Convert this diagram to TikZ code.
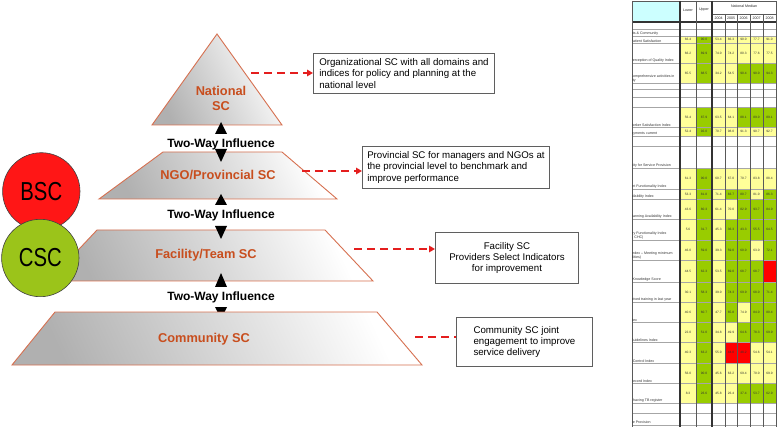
\documentclass[tikz,border=0pt]{standalone}
\usepackage{fontspec}
\usepackage{graphicx}
\setmainfont{Liberation Sans}
\usetikzlibrary{arrows.meta,calc}
\definecolor{lvlc}{RGB}{200,78,30}
\definecolor{edgec}{RGB}{214,112,80}
\definecolor{dashc}{RGB}{228,30,30}
\definecolor{bscc}{RGB}{255,22,22}
\definecolor{cscc}{RGB}{155,196,26}
\definecolor{boxc}{RGB}{95,95,95}
\definecolor{cy}{RGB}{204,255,255}
\definecolor{yc}{RGB}{255,255,153}
\definecolor{gc}{RGB}{153,204,0}
\definecolor{rc}{RGB}{255,0,0}
\begin{document}
\begin{tikzpicture}[x=1pt,y=-1pt,
  lvl/.style={draw=edgec, line width=0.9pt, left color=gray!62, middle color=gray!22, right color=white, shading angle=115},
  lvltext/.style={font=\fontsize{12.8}{15}\selectfont\bfseries, text=lvlc, align=center, inner sep=0pt},
  twoway/.style={font=\fontsize{12}{14}\selectfont\bfseries, inner sep=0pt},
  infobox/.style={draw=boxc, line width=0.9pt, fill=white, font=\fontsize{9.7}{11.2}\selectfont, inner sep=0pt},
  reddash/.style={draw=dashc, line width=2.2pt, dash pattern=on 8pt off 5pt},
  tip/.style={-{Triangle[length=6pt,width=6.5pt]}},
  ball/.style={circle, draw=black!75, line width=0.6pt, minimum size=77.4pt, inner sep=0pt, font=\fontsize{26}{26}\selectfont},
  cell/.style={font=\fontsize{3.2}{3.6}\selectfont, inner sep=0pt, text=black!80},
  rowlab/.style={font=\fontsize{3.6}{4.2}\selectfont, inner sep=0pt, align=left, text=black!80},
  hdr/.style={font=\fontsize{3.6}{4.2}\selectfont, inner sep=0pt, text=black!85},
  grid/.style={draw=gray!70, line width=0.4pt},
  vthick/.style={draw=black!80, line width=1.2pt},
  vthin/.style={draw=black!65, line width=0.5pt}
]
\useasboundingbox (0,0) rectangle (778,427);

% ---------------- pyramid ----------------
\path[lvl] (217,34) -- (282,125) -- (152,125) -- cycle;
\path[lvl] (163,152) -- (282,152) -- (337,199) -- (99,199) -- cycle;
\path[lvl] (97,230) -- (325,230) -- (373,281) -- (49,281) -- cycle;
\fill[black] (215,307) -- (227,307) -- (221,319) -- cycle;
\path[lvl] (55,312) -- (377,312) -- (422,365) -- (12,365) -- cycle;

% two-way arrow heads
\fill[black] (221,122) -- (215,134) -- (227,134) -- cycle;
\fill[black] (215,149) -- (227,149) -- (221,162) -- cycle;
\fill[black] (221,194) -- (215,205) -- (227,205) -- cycle;
\fill[black] (215,226) -- (227,226) -- (221,239) -- cycle;
\fill[black] (221,273) -- (215,287) -- (227,287) -- cycle;

\node[lvltext] (natl) at (221,98.5) {National\\SC};
\node[lvltext] (ngol) at (218,175) {NGO/Provincial SC};
\node[lvltext] (facl) at (206,255) {Facility/Team SC};
\node[lvltext] (coml) at (204,339) {Community SC};

\node[twoway] (tw1) at (221,144) {Two-Way Influence};
\node[twoway] (tw2) at (221,215) {Two-Way Influence};
\node[twoway] (tw3) at (221,297) {Two-Way Influence};

% ---------------- circles ----------------
\node[ball, fill=bscc] (bsc) at (41.3,191.4) {\scalebox{0.78}[1]{BSC}};
\node[ball, fill=cscc] (csc) at (40.3,258) {\scalebox{0.78}[1]{CSC}};

% ---------------- boxes ----------------
\node[infobox, minimum width=181pt, minimum height=40pt, anchor=north west, align=left] (box1) at (313,53)
  {Organizational SC with all domains and\\indices for policy and planning at the\\national level};
\node[infobox, minimum width=187pt, minimum height=42pt, anchor=north west, align=left] (box2) at (362,146)
  {Provincial SC for managers and NGOs at\\the provincial level to benchmark and\\improve performance\phantom{g and NGOs at}};
\node[infobox, minimum width=143pt, minimum height=51pt, anchor=north west, align=center] (box3) at (435,232)
  {Facility SC\\Providers Select Indicators\\for improvement};
\node[infobox, minimum width=136pt, minimum height=49pt, anchor=north west, align=left] (box4) at (456,317)
  {Community SC joint\\engagement to improve\\service delivery\phantom{mprove}};

% ---------------- dashed connectors ----------------
\coordinate (natr) at (251,73);
\coordinate (ngor) at (302,171);
\coordinate (facr) at (354,249);
\coordinate (comr) at (415,337);
\draw[reddash, tip] (natr) -- (natr -| box1.west);
\draw[reddash, tip] (ngor) -- (ngor -| box2.west);
\draw[reddash, tip] (facr) -- (facr -| box3.west);
\draw[reddash] (comr) -- (comr -| box4.west);

% ---------------- table ----------------
\fill[cy] (632,1) rectangle (680,22);
\foreach \ya/\yb/\cells [count=\r] in {
 36/43/{yc/66.4,gc/90.0,yc/53.4,yc/86.3,yc/90.0,yc/77.7,yc/91.0},
 43/63/{yc/66.2,gc/89.9,yc/74.0,yc/74.2,yc/80.3,yc/77.6,yc/77.5},
 63/83/{yc/65.5,gc/88.5,yc/34.2,yc/54.5,gc/90.4,gc/90.0,gc/94.3},
 107/127/{yc/56.4,gc/87.9,yc/63.5,yc/64.1,gc/88.1,gc/89.0,gc/89.1},
 127/136/{yc/52.4,gc/92.0,yc/70.7,yc/98.0,yc/91.3,yc/90.7,yc/92.7},
 168/189/{yc/61.3,gc/90.0,yc/60.7,yc/67.0,yc/70.7,yc/83.8,yc/88.4},
 189/199/{yc/53.3,gc/81.8,yc/71.4,gc/83.7,gc/80.7,yc/81.0,gc/86.3},
 199/219/{yc/43.6,gc/80.3,yc/61.4,yc/70.0,gc/82.9,gc/93.7,gc/84.9},
 219/240/{yc/5.6,gc/31.7,yc/45.3,gc/36.3,gc/43.3,gc/55.5,gc/64.5},
 240/260/{yc/46.0,gc/59.0,yc/39.3,gc/59.0,gc/60.0,yc/63.0,gc/72.1},
 260/282/{yc/44.5,gc/62.3,yc/53.5,gc/69.0,gc/68.7,gc/68.7,rc/},
 282/302/{yc/30.1,gc/58.3,yc/39.0,gc/74.3,gc/69.9,gc/68.0,gc/71.4},
 302/322/{yc/40.6,gc/60.7,yc/47.7,gc/65.8,yc/74.9,gc/84.0,gc/80.4},
 322/342/{yc/22.0,gc/51.0,yc/34.8,yc/49.9,gc/64.6,gc/78.3,gc/69.9},
 342/363/{yc/40.3,gc/63.2,yc/55.0,rc/44.0,rc/48.2,yc/54.6,yc/54.1},
 363/383/{yc/56.0,gc/90.0,yc/45.6,yc/63.2,yc/69.4,yc/70.0,yc/69.9},
 383/403/{yc/8.3,gc/26.6,yc/45.8,yc/26.4,gc/37.4,gc/53.7,gc/62.9}} {
  \foreach \c/\v [count=\i] in \cells {
    \pgfmathsetmacro\xa{{680,696,712,725,737,750,763}[\i-1]}
    \pgfmathsetmacro\xb{{696,712,725,737,750,763,776}[\i-1]}
    \fill[\c] (\xa,\ya) rectangle (\xb,\yb);
    \node[cell] (v-\r-\i) at ({(\xa+\xb)/2},{(\ya+\yb)/2}) {\v};
  }
}
% horizontal rules
\foreach \y in {22,29,36,43,63,83,89,97,107,127,136,146,168,189,199,219,240,260,282,302,322,342,363,383,403,413,425}
  \draw[grid] (632,\y) -- (776,\y);
\draw[vthin] (632,1) -- (776,1);
\draw[vthin] (712,14) -- (776,14);
\draw[vthick] (632,22) -- (776,22);
% vertical rules
\draw[vthin] (632,1) -- (632,427);
\foreach \x in {696} \draw[vthin] (\x,1) -- (\x,427);
\foreach \x in {725,737,750,763} \draw[vthin] (\x,14) -- (\x,427);
\draw[vthin] (776,1) -- (776,427);
\draw[vthick] (680,1) -- (680,427);
\draw[vthick] (712,1) -- (712,427);

% header text
\node[hdr] (hlow) at (688,10) {Lower};
\node[hdr] (hup) at (704,10) {Upper};
\node[hdr] (hnat) at (744,6) {National Median};
\foreach \x/\t [count=\k] in {718.5/2004,731/2005,743.5/2006,756.5/2007,769.5/2008}
  \node[hdr] (hy-\k) at (\x,18.5) {\t};

% row labels (cropped at the left edge)
\begin{scope}
\clip (632,0) rectangle (680,427);
\foreach \y/\t [count=\k] in {
 35/{A. Patients \& Community},
 42.5/{Overall Patient Satisfaction},
 62.5/{Patient Perception of Quality Index},
 82.5/{Written Comprehensive activities in\\community},
 96/{B. Staff},
 126.5/{Health Worker Satisfaction Index},
 135.5/{Salary payments current},
 167/{C. Capacity for Service Provision},
 188.5/{Equipment Functionality Index},
 198.5/{Drug Availability Index},
 218.5/{Family Planning Availability Index},
 239.5/{Laboratory Functionality Index\\(Hospital, CHC)},
 259.5/{Staffing Index -- Meeting minimum\\staff (facilities)},
 281.5/{Provider Knowledge Score},
 301.5/{Staff received training in last year},
 321.5/{HMIS Index},
 341.5/{Clinical Guidelines Index},
 362.5/{Infection Control Index},
 382.5/{Patient Record Index},
 402.5/{Facilities having TB register},
 424/{D. Service Provision}}
  \node[rowlab, anchor=south west] (lab-\k) at (618,\y) {\t};
\end{scope}
\end{tikzpicture}
\end{document}
